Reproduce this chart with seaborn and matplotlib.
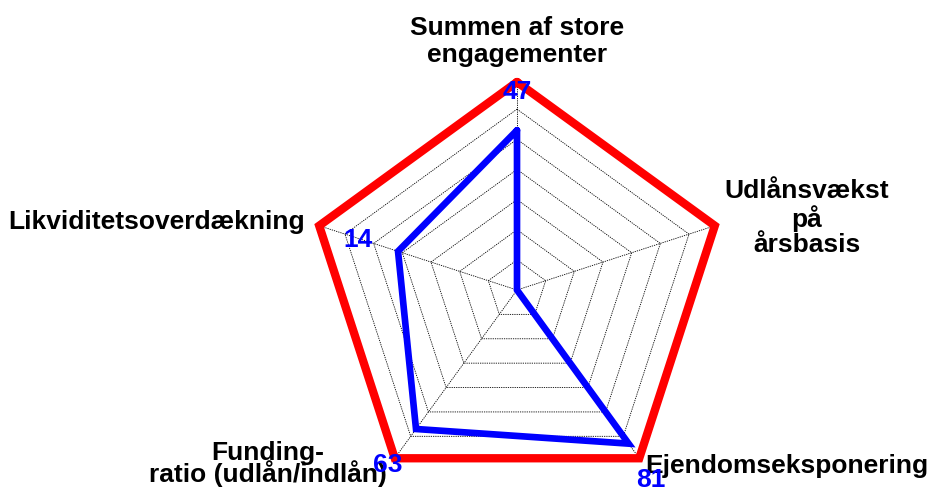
import numpy as np
import pandas as pd
import matplotlib
matplotlib.use("Agg")
import matplotlib.pyplot as plt
import seaborn as sns

# ---- data ----
categories = ["Summen af store\nengagementer", "Udlånsvækst\npå\nårsbasis",
              "Ejendomseksponering", "Funding-\nratio (udlån/indlån)",
              "Likviditetsoverdækning"]
values = [5.3, 0.0, 6.3, 5.7, 4.15]
limits = [6.9, 6.9, 6.9, 6.9, 6.9]
value_labels = ["47", "", "81", "63", "14"]
grid_levels = [1, 2, 3, 4, 5, 6]

sns.set_style("white")
plt.rcParams['font.family'] = ['Liberation Sans', 'DejaVu Sans']

W, H = 933, 495
fig = plt.figure(figsize=(W / 100, H / 100), dpi=100)

cx, cy, rmax = 517, 290, 7.0
rpx = 211
ax = fig.add_axes([(cx - rpx) / W, 1 - (cy + rpx) / H, 2 * rpx / W, 2 * rpx / H],
                  projection='polar')
ax.set_theta_offset(np.pi / 2)
ax.set_theta_direction(-1)
ax.set_ylim(0, rmax)
ax.set_axis_off()

n = len(categories)
theta = np.arange(n) * 2 * np.pi / n
theta_c = np.append(theta, theta[0] + 2 * np.pi)

# grid rings
for lv in grid_levels:
    ring = pd.DataFrame({"t": theta_c, "r": [lv] * (n + 1)})
    sns.lineplot(data=ring, x="t", y="r", sort=False, estimator=None, ax=ax,
                 color="black", linewidth=0.6, linestyle=(0, (1.5, 1.2)),
                 zorder=1)
# spokes
for t, lim in zip(theta, limits):
    ax.plot([t, t], [0, lim], color="black", linewidth=0.6,
            linestyle=(0, (1.5, 1.2)), zorder=1)

lim_df = pd.DataFrame({"t": theta_c, "r": limits + [limits[0]]})
sns.lineplot(data=lim_df, x="t", y="r", sort=False, estimator=None, ax=ax,
             color="#ff0000", linewidth=6.0, solid_joinstyle="miter",
             zorder=3, clip_on=False)
val_df = pd.DataFrame({"t": theta_c, "r": values + [values[0]]})
sns.lineplot(data=val_df, x="t", y="r", sort=False, estimator=None, ax=ax,
             color="#0000ff", linewidth=4.8, solid_joinstyle="miter",
             zorder=4, clip_on=False)
ax.set_xlabel("")
ax.set_ylabel("")


def px(x, y):
    return x / W, 1 - y / H


# category labels (figure pixel positions, y = baseline of last line)
cat_pos = [(517, 62, "center", 1.15),
           (807, 252, "center", 1.07),
           (645, 473, "left", 1.2),
           (268, 482, "center", 0.78),
           (305, 229, "right", 1.2)]
for lab, (x, y, ha, ls) in zip(categories, cat_pos):
    fig.text(*px(x, y), lab, ha=ha, va="baseline", fontsize=19,
             fontweight="bold", color="black", linespacing=ls)

num_pos = [(517, 99), None, (651, 487), (388, 472), (358, 247)]
for lab, pos in zip(value_labels, num_pos):
    if lab and pos:
        fig.text(*px(*pos), lab, ha="center", va="baseline", fontsize=19,
                 fontweight="bold", color="#0000ff", zorder=10)

fig.savefig("out.png", dpi=100)
